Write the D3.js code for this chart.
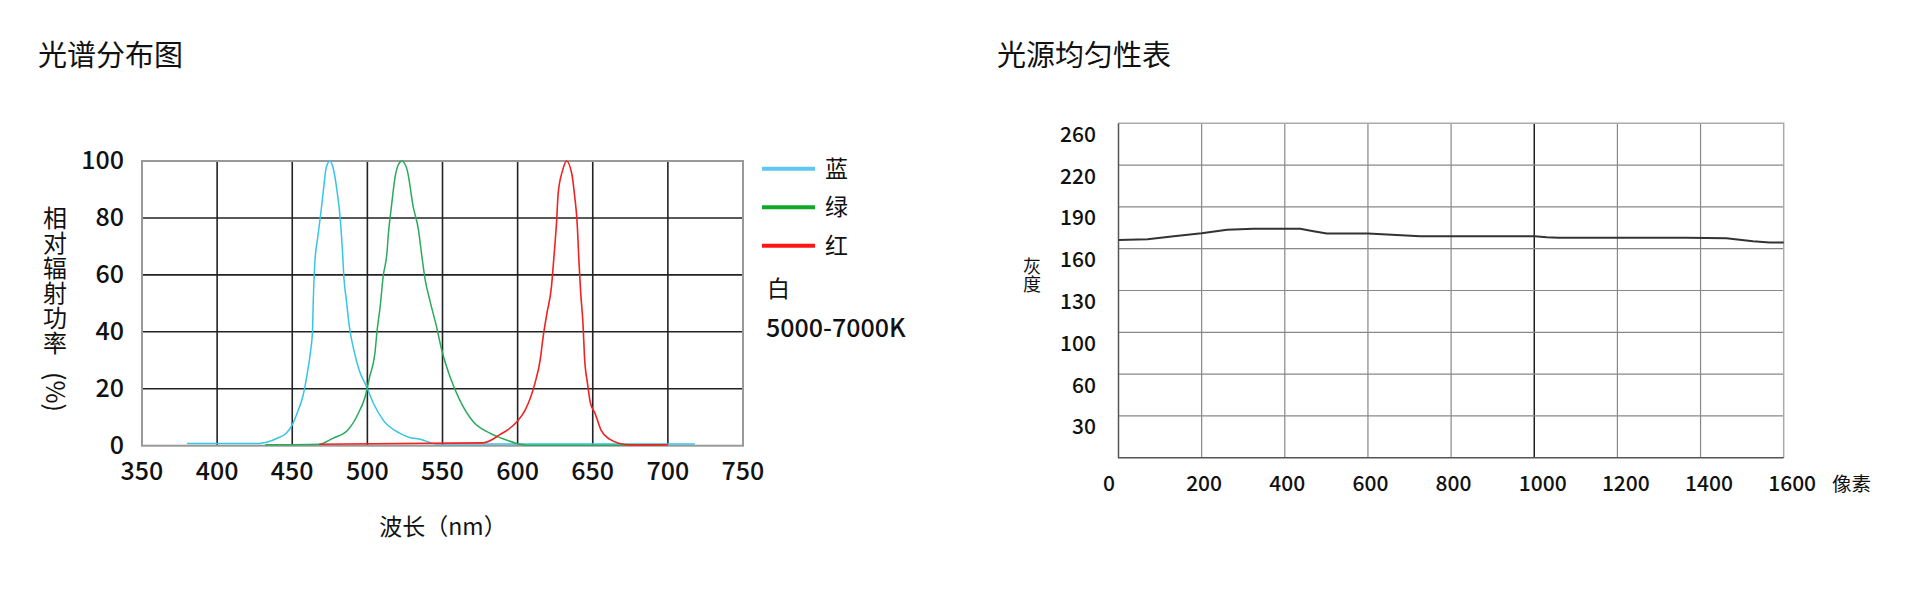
<!DOCTYPE html>
<html>
<head>
<meta charset="utf-8">
<script src="https://cdnjs.cloudflare.com/ajax/libs/d3/7.8.5/d3.min.js"></script>
<style>
    body { margin: 0; background: #fff; }
    svg text { font-family: "Noto Sans CJK SC", "Noto Sans", sans-serif; fill: #111; }
    svg text.num { font-weight: 500; }
    svg text.vert { writing-mode: vertical-rl; }
</style>
</head>
<body>
<svg id="chart" width="1920" height="599"></svg>
<script>
/**
 * Spectrum data: [wavelength (nm), relative radiant power (%)]
 */
var wavelengthTicks = [350, 400, 450, 500, 550, 600, 650, 700, 750];
var powerTicks = [0, 20, 40, 60, 80, 100];

var blueSpectrum = [[380, 0.8], [428, 0.8], [433, 1.2], [440, 2.6], [446, 4.4], [450, 7.3], [454, 12.5],
    [457, 17.2], [460, 25.4], [462, 32.4], [463.5, 40.6], [464, 51.2], [465, 64], [467, 73.4], [469, 81.6],
    [471, 91], [472.5, 97.4], [475, 100], [477, 98], [480, 88.7], [482, 79.3], [483.5, 67.6], [484.5, 58.2],
    [486, 51.2], [488, 41.8], [491, 33.6], [494.5, 26.6], [499.5, 20.7], [504, 14.9], [510.5, 9],
    [521.5, 4.4], [528, 2.9], [535, 2.3], [546, 0.6], [718, 0.6]];

var greenSpectrum = [[432, 0.3], [468, 0.5], [477, 2.6], [487, 5.5], [494, 11.4], [498.5, 17.2],
    [501.5, 24.2], [505, 32.4], [506.5, 40.6], [508.5, 48.8], [510.5, 59.4], [513, 67.6], [514, 74.6],
    [516, 84], [518.5, 94.5], [520.5, 98.6], [523, 100], [526.5, 96.8], [530.5, 84], [534, 75.8],
    [536, 67.6], [538.5, 58.2], [541.5, 51.2], [546, 41.8], [549.5, 33.6], [555, 24.2], [561.5, 16],
    [570.5, 8.4], [581.5, 4.4], [592.5, 2], [599.5, 0.8], [606, 0.2], [696, 0.2]];

var redSpectrum = [[468, 0.5], [577, 1], [588, 3.8], [599.5, 8.4], [605, 12.5], [611.5, 21.9], [615, 30.1],
    [617, 38.3], [619.5, 46.5], [622.5, 55.8], [624, 65.2], [626, 79.3], [627, 88.7], [630, 96.8],
    [632.5, 100], [636, 95.7], [638, 87.5], [639.5, 79.3], [641, 62.9], [642, 53.5], [643.5, 43],
    [644.5, 31.3], [646.5, 21.9], [648.5, 14.9], [651.5, 11.4], [655.5, 5.5], [661.5, 2.2], [668, 0.8],
    [675, 0.3], [700, 0.3]];

var legendNames = ['蓝', '绿', '红'];
var legendColors = ['#5ec6f0', '#10a82a', '#ff1414'];
var curveColors = ['#38c4e4', '#2aab5c', '#f02222'];

/**
 * Uniformity data: pixel position vs gray level
 */
var pixelTicks = [0, 200, 400, 600, 800, 1000, 1200, 1400, 1600];
var grayTicks = [0, 30, 60, 100, 130, 160, 190, 220, 260];
var pixelPos = [0, 70, 133, 200, 261, 325, 402, 437, 469, 501, 600, 726, 1001, 1030, 1058, 1366, 1462, 1526, 1566, 1600];
var grayValue = [166.3, 166.8, 168.9, 171.1, 173.6, 174.3, 174.3, 174.3, 172.6, 170.9, 170.9, 168.9, 168.9,
    168.2, 167.8, 167.8, 167.5, 165.3, 164.4, 164.4];

var svg = d3.select('#chart');

/**
 * Left chart: spectrum
 */
function drawSpectrum() {
    var x = d3.scaleLinear().domain([350, 750]).range([142, 743]);
    var y = d3.scaleLinear().domain([0, 100]).range([445.7, 161]);
    var g = svg.append('g');

    g.append('text').attr('x', 38).attr('y', 66).style('font-size', '29px').text('光谱分布图');

    // grid
    g.selectAll('line.vg').data(wavelengthTicks.slice(1, -1)).enter()
        .append('line')
        .attr('x1', function (d) { return x(d); }).attr('x2', function (d) { return x(d); })
        .attr('y1', y(100)).attr('y2', y(0))
        .attr('stroke', '#222').attr('stroke-width', 1.6);
    g.selectAll('line.hg').data(powerTicks.slice(1, -1)).enter()
        .append('line')
        .attr('x1', x(350)).attr('x2', x(750))
        .attr('y1', function (d) { return y(d); }).attr('y2', function (d) { return y(d); })
        .attr('stroke', '#222').attr('stroke-width', 1.6);
    g.append('rect')
        .attr('x', x(350)).attr('y', y(100))
        .attr('width', x(750) - x(350)).attr('height', y(0) - y(100))
        .attr('fill', 'none').attr('stroke', '#999').attr('stroke-width', 2);

    // curves
    var line = d3.line()
        .x(function (d) { return x(d[0]); })
        .y(function (d) { return y(d[1]); })
        .curve(d3.curveMonotoneX);
    [blueSpectrum, greenSpectrum, redSpectrum].forEach(function (s, i) {
        g.append('path').datum(s)
            .attr('d', line)
            .attr('fill', 'none')
            .attr('stroke', curveColors[i])
            .attr('stroke-width', i === 2 ? 1.6 : 1.5);
    });

    // tick labels
    g.selectAll('text.yl').data(powerTicks).enter()
        .append('text')
        .attr('class', 'num')
        .attr('x', 124).attr('y', function (d) { return y(d); })
        .attr('dy', '0.33em')
        .attr('text-anchor', 'end')
        .style('font-size', '25px')
        .text(function (d) { return d; });
    g.selectAll('text.xl').data(wavelengthTicks).enter()
        .append('text')
        .attr('class', 'num')
        .attr('x', function (d) { return x(d); }).attr('y', 480)
        .attr('text-anchor', 'middle')
        .style('font-size', '25px')
        .text(function (d) { return d; });

    // axis titles
    g.append('text').attr('x', 443).attr('y', 535)
        .attr('text-anchor', 'middle').style('font-size', '23px').text('波长（nm）');
    g.append('text')
        .attr('class', 'vert')
        .attr('x', 55).attr('y', 206)
        .style('font-size', '24px')
        .style('letter-spacing', '1px')
        .text('相对辐射功率');
    g.append('text')
        .attr('transform', 'translate(55,392) rotate(90)')
        .attr('text-anchor', 'middle').attr('dy', '0.35em')
        .style('font-size', '25px')
        .text('(%)');

    // legend
    var lg = g.selectAll('g.legend').data(legendNames).enter()
        .append('g')
        .attr('transform', function (d, i) { return 'translate(762,' + (168.7 + i * 38.5) + ')'; });
    lg.append('line')
        .attr('x1', 0).attr('x2', 53)
        .attr('stroke', function (d, i) { return legendColors[i]; })
        .attr('stroke-width', 4);
    lg.append('text')
        .attr('x', 63).attr('dy', '0.36em')
        .style('font-size', '23px')
        .text(function (d) { return d; });

    g.append('text').attr('x', 767).attr('y', 289).attr('dy', '0.36em')
        .style('font-size', '23px').text('白');
    g.append('text').attr('class', 'num').attr('x', 766).attr('y', 336.5)
        .style('font-size', '25px').text('5000-7000K');
}

/**
 * Right chart: light source uniformity
 */
function drawUniformity() {
    var x = d3.scaleLinear().domain([0, 1600]).range([1118.5, 1783.7]);
    var step = (457.7 - 123.3) / (grayTicks.length - 1);
    var y = d3.scaleLinear().domain(grayTicks)
        .range(grayTicks.map(function (d, i) { return 457.7 - i * step; }));
    var g = svg.append('g');

    g.append('text').attr('x', 997).attr('y', 66).style('font-size', '29px').text('光源均匀性表');

    g.selectAll('line.vg').data(pixelTicks.slice(1, -1)).enter()
        .append('line')
        .attr('x1', function (d) { return x(d); }).attr('x2', function (d) { return x(d); })
        .attr('y1', y(260)).attr('y2', y(0))
        .attr('stroke', function (d) { return d === 1000 ? '#111' : '#888'; })
        .attr('stroke-width', function (d) { return d === 1000 ? 1.4 : 1.2; });
    g.selectAll('line.hg').data(grayTicks.slice(1, -1)).enter()
        .append('line')
        .attr('x1', x(0)).attr('x2', x(1600))
        .attr('y1', function (d) { return y(d); }).attr('y2', function (d) { return y(d); })
        .attr('stroke', '#888').attr('stroke-width', 1.2);

    // frame: top/right light, left/bottom dark
    g.append('path')
        .attr('d', 'M' + x(0) + ',' + y(260) + 'H' + x(1600) + 'V' + y(0))
        .attr('fill', 'none').attr('stroke', '#aaa').attr('stroke-width', 1.5);
    g.append('path')
        .attr('d', 'M' + x(0) + ',' + y(260) + 'V' + y(0) + 'H' + x(1600))
        .attr('fill', 'none').attr('stroke', '#555').attr('stroke-width', 1.5);

    var line = d3.line()
        .x(function (d, i) { return x(pixelPos[i]); })
        .y(function (d) { return y(d); });
    g.append('path').datum(grayValue)
        .attr('d', line)
        .attr('fill', 'none').attr('stroke', '#333').attr('stroke-width', 2);

    g.selectAll('text.yl').data(grayTicks.slice(1)).enter()
        .append('text')
        .attr('class', 'num')
        .attr('x', 1096).attr('y', function (d) { return y(d) + 11.5; })
        .attr('dy', '0.33em')
        .attr('text-anchor', 'end')
        .style('font-size', '21px')
        .text(function (d) { return d; });
    g.selectAll('text.xl').data(pixelTicks).enter()
        .append('text')
        .attr('class', 'num')
        .attr('x', function (d) { return x(d) - 15.5; }).attr('y', 490.5)
        .style('font-size', '21px')
        .text(function (d) { return d; });

    g.append('text').attr('x', 1832).attr('y', 490.5).style('font-size', '19.5px').text('像素');
    g.append('text')
        .attr('class', 'vert')
        .attr('x', 1032).attr('y', 257)
        .style('font-size', '18px')
        .text('灰度');
}

drawSpectrum();
drawUniformity();
</script>
</body>
</html>
